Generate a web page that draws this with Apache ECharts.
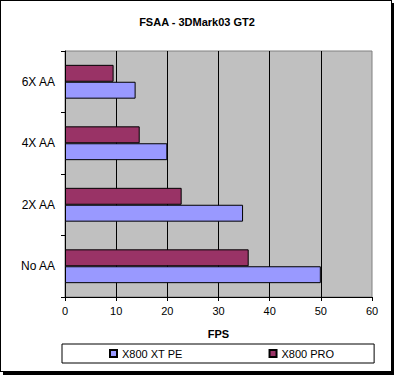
<!DOCTYPE html>
<html>
<head>
<meta charset="utf-8">
<script src="https://cdn.jsdelivr.net/npm/echarts@6/dist/echarts.min.js"></script>
<style>
  html, body { margin: 0; padding: 0; background: #fff; }
  #frame {
    position: absolute; left: 0; top: 0;
    width: 390px; height: 370px;
    border: 1px solid #000;
    box-shadow: 3px 3px 0 #000;
    background: #fff;
  }
  #chart { position: absolute; left: 0; top: 0; width: 394px; height: 376px; }
</style>
</head>
<body>
<div id="frame"></div>
<div id="chart"></div>
<script>
var categories = ['No AA', '2X AA', '4X AA', '6X AA'];
var xtPe = [50, 34.8, 20, 13.8];
var pro = [35.9, 22.8, 14.6, 9.5];
var seriesNames = ['X800 XT PE', 'X800 PRO'];

var font = 'Arial, "Liberation Sans", sans-serif';
var chart = echarts.init(document.getElementById('chart'), null, { renderer: 'svg' });
chart.setOption({
  animation: false,
  title: {
    text: 'FSAA - 3DMark03 GT2',
    left: 'center', top: 16, padding: 0,
    textStyle: { fontFamily: font, fontSize: 11, fontWeight: 'bold', color: '#000' }
  },
  legend: {
    data: seriesNames,
    left: 62, top: 344,
    padding: [4, 40, 4, 47],
    itemGap: 86,
    itemWidth: 7, itemHeight: 7,
    icon: 'rect',
    borderColor: '#000', borderWidth: 1,
    textStyle: { fontFamily: font, fontSize: 11, color: '#000' }
  },
  grid: {
    left: 65, right: 22, top: 51, bottom: 79,
    show: true, backgroundColor: '#C0C0C0', borderColor: '#808080', borderWidth: 1
  },
  xAxis: {
    type: 'value', min: 0, max: 60, interval: 10,
    name: 'FPS', nameLocation: 'middle', nameGap: 31,
    nameTextStyle: { fontFamily: font, fontSize: 11, fontWeight: 'bold', color: '#000' },
    axisLine: { show: true, lineStyle: { color: '#000', width: 1 } },
    axisTick: { show: true, length: 4, lineStyle: { color: '#000' } },
    axisLabel: { fontFamily: font, fontSize: 11, color: '#000', margin: 8 },
    splitLine: { show: true, showMaxLine: false, lineStyle: { color: '#000', width: 1 } }
  },
  yAxis: {
    type: 'category', data: categories,
    axisLine: { show: true, lineStyle: { color: '#000', width: 1 } },
    axisTick: { show: true, length: 4, lineStyle: { color: '#000' } },
    axisLabel: { fontFamily: font, fontSize: 12, color: '#000', margin: 10 },
    splitLine: { show: false }
  },
  series: [
    { name: seriesNames[1], type: 'bar', data: pro, barGap: '0%', barCategoryGap: '45%',
      itemStyle: { color: '#993366', borderColor: '#000', borderWidth: 1 } },
    { name: seriesNames[0], type: 'bar', data: xtPe,
      itemStyle: { color: '#9999FF', borderColor: '#000', borderWidth: 1 } }
  ]
});
</script>
</body>
</html>
